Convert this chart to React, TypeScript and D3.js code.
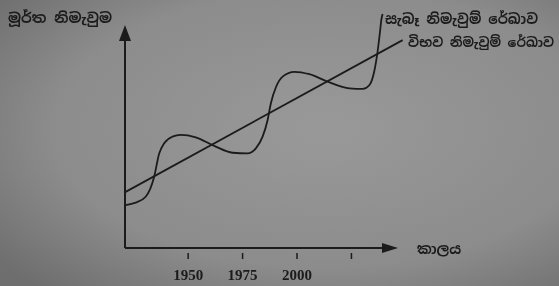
import React from 'react';
import * as d3 from 'd3';

// time axis ticks (last tick has no label)
const tickYears = [1950, 1975, 2000, 2025];
const tickLabels = ['1950', '1975', '2000', ''];

const actualYears = [1921.3, 1925.9, 1930.5, 1934.4, 1936.7, 1939.0, 1942.8, 1946.6, 1953.5, 1962.0, 1970.4, 1977.3, 1981.1, 1984.2, 1986.5, 1988.0, 1990.4, 1993.4, 1998.8, 2005.7, 2014.1, 2024.1, 2030.2, 2033.3, 2035.6, 2037.1, 2038.2, 2038.7, 2039.3];
const actualOutput = [19.5, 20.6, 23.3, 32.4, 43.0, 47.6, 50.6, 51.4, 50.3, 46.4, 43.3, 43.0, 45.3, 50.6, 58.2, 65.8, 73.3, 77.9, 80.1, 79.0, 75.6, 72.6, 72.3, 74.1, 80.9, 90.0, 99.1, 103.6, 106.4];

// potential output line (straight trend)
const potentialYears = [1921.3, 2048.5];
const potentialOutput = [25.5, 94.5];

const yLabel = 'මූර්ත නිමැවුම';
const xLabel = 'කාලය';
const actualLabel = 'සැබෑ නිමැවුම් රේඛාව';
const potentialLabel = 'විභව නිමැවුම් රේඛාව';

const W = 559;
const H = 286;
const ink = '#1b1b1b';
const sinhala = '"Noto Sans Sinhala", "Iskoola Pota", "Noto Sans", sans-serif';

export default function App() {
  const x = d3.scaleLinear().domain([1921, 2045]).range([125, 395]);
  const y = d3.scaleLinear().domain([0, 100]).range([248, 28]);

  const line = d3.line<[number, number]>()
    .x(d => x(d[0]))
    .y(d => y(d[1]))
    .curve(d3.curveMonotoneX);

  const actual = line(actualYears.map((yr, i) => [yr, actualOutput[i]]));
  const potential = d3.line<[number, number]>()
    .x(d => x(d[0]))
    .y(d => y(d[1]))(potentialYears.map((yr, i) => [yr, potentialOutput[i]]));

  const x0 = x(1921);
  const y0 = y(0);

  return (
    <svg width={W} height={H} style={{ position: 'fixed', left: 0, top: 0 }}>
      <defs>
        <radialGradient id="paper" cx="58%" cy="45%" r="75%">
          <stop offset="0%" stopColor="#999999" />
          <stop offset="65%" stopColor="#8c8c8c" />
          <stop offset="100%" stopColor="#6e6e6e" />
        </radialGradient>
      </defs>
      <rect width={W} height={H} fill="url(#paper)" />

      {/* axes */}
      <line x1={x0} y1={y0} x2={x0} y2={y(100) + 12} stroke={ink} strokeWidth={2} />
      <polygon points={`${x0},${y(100) - 3} ${x0 - 6},${y(100) + 13} ${x0 + 6},${y(100) + 13}`} fill={ink} />
      <line x1={x0} y1={y0} x2={x(2045) - 10} y2={y0} stroke={ink} strokeWidth={2} />
      <polygon points={`${x(2045) + 3},${y0} ${x(2045) - 13},${y0 - 5} ${x(2045) - 13},${y0 + 5}`} fill={ink} />

      {tickYears.map((t, i) => (
        <g key={t}>
          <line x1={x(t)} x2={x(t)} y1={y0 + 5} y2={y0 + 11} stroke={ink} strokeWidth={1.5} />
          <text x={x(t)} y={y0 + 32} textAnchor="middle" fontFamily='"Liberation Serif", serif'
            fontWeight="bold" fontSize={15} fill={ink}>{tickLabels[i]}</text>
        </g>
      ))}

      {/* lines */}
      <path d={potential ?? ''} fill="none" stroke={ink} strokeWidth={1.8} />
      <path d={actual ?? ''} fill="none" stroke={ink} strokeWidth={1.8} />

      {/* labels */}
      <text x={8} y={23} fontFamily={sinhala} fontWeight="bold" fontSize={14} fill={ink}
        textLength={104} lengthAdjust="spacingAndGlyphs">{yLabel}</text>
      <text x={385} y={24} fontFamily={sinhala} fontWeight="bold" fontSize={14} fill={ink}
        textLength={153} lengthAdjust="spacingAndGlyphs">{actualLabel}</text>
      <text x={408} y={47} fontFamily={sinhala} fontWeight="bold" fontSize={13} fill={ink}
        textLength={146} lengthAdjust="spacingAndGlyphs">{potentialLabel}</text>
      <text x={417} y={254} fontFamily={sinhala} fontWeight="bold" fontSize={14} fill={ink}>{xLabel}</text>
    </svg>
  );
}
